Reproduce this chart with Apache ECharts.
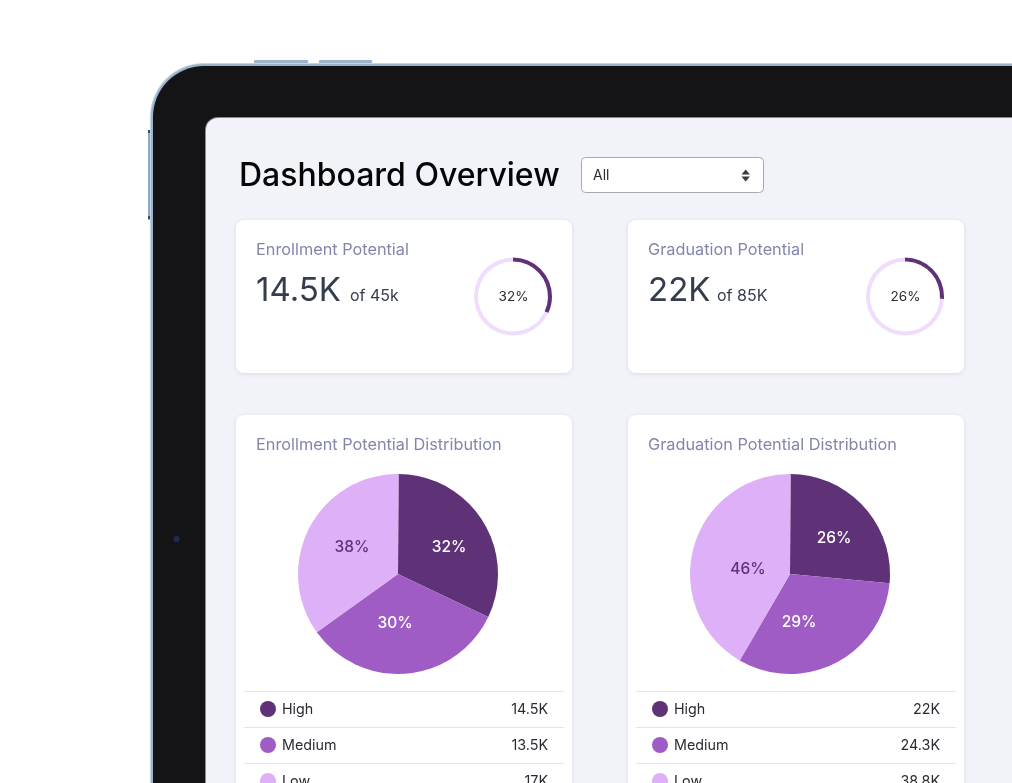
<!DOCTYPE html>
<html>
<head>
<meta charset="utf-8">
<title>Dashboard Overview</title>
<script src="https://cdn.jsdelivr.net/npm/echarts@6/dist/echarts.min.js"></script>
<style>
  html, body { margin: 0; padding: 0; background: #fff; }
  #chart { width: 1012px; height: 783px; }
</style>
</head>
<body>
<div id="chart"></div>
<script>
var levels = ['High', 'Medium', 'Low'];
var levelColors = ['#5f3277', '#9f5cc4', '#deb0f7'];

var cardTitles = ['Enrollment Potential', 'Graduation Potential'];
var cardValues = ['14.5K', '22K'];
var cardTotals = ['of 45k', 'of 85K'];
var ringPercents = [32, 26];

var pieTitles = ['Enrollment Potential Distribution', 'Graduation Potential Distribution'];
// slice sizes as drawn in the picture, they differ a bit from the printed labels
var enrollmentShares = [32, 33, 35];
var graduationShares = [26.4, 31.9, 41.7];
var enrollmentLabels = ['32%', '30%', '38%'];
var graduationLabels = ['26%', '29%', '46%'];
var enrollmentRows = ['14.5K', '13.5K', '17K'];
var graduationRows = ['22K', '24.3K', '38.8K'];

var pieShares = [enrollmentShares, graduationShares];
var pieLabels = [enrollmentLabels, graduationLabels];
var rowValues = [enrollmentRows, graduationRows];

var FONT = 'Inter, "Noto Sans", sans-serif';
var cardX = [236, 628];
var cardWidth = 336;
var totalOffset = [114, 89];

// pie labels in the original do not sit on the slice bisector
var labelSpots = [
  [[449, 547], [395, 623], [352, 547]],
  [[834, 538], [799, 622], [748, 569]]
];

var chart = echarts.init(document.getElementById('chart'));

function rect(x, y, w, h, r, fill, extra) {
  var style = { fill: fill };
  if (extra) {
    for (var k in extra) style[k] = extra[k];
  }
  return { type: 'rect', shape: { x: x, y: y, width: w, height: h, r: r }, style: style, silent: true };
}

function text(x, y, str, size, color, weight, align) {
  return {
    type: 'text', x: x, y: y, silent: true,
    style: {
      text: str, fontSize: size, fill: color, fontFamily: FONT,
      fontWeight: weight || 400, align: align || 'left', verticalAlign: 'middle'
    }
  };
}

var shadow = { shadowColor: 'rgba(60,60,90,0.14)', shadowBlur: 4, shadowOffsetY: 1 };
var elements = [
  // device frame
  rect(254, 60, 54, 6, 1, '#9db4ca'),
  rect(319, 60, 53, 6, 1, '#9db4ca'),
  rect(148, 130, 4, 90, 0, '#8fa9c2'),
  rect(148, 130, 3, 3, 0, '#3c4a58'),
  rect(148, 216, 3, 3, 0, '#3c4a58'),
  rect(150, 63, 1000, 1000, 54, '#c3d5e5'),
  rect(151, 64, 1000, 1000, 53, '#9ab3c9'),
  rect(153, 66, 1000, 1000, 51, '#141316'),
  rect(205, 117, 900, 900, 13, '#8a8a90'),
  rect(206, 118, 900, 900, 12, '#f2f3f9'),
  { type: 'circle', shape: { cx: 176.5, cy: 539, r: 3 }, style: { fill: '#1c2c52' }, silent: true },
  // header
  text(239, 176, 'Dashboard Overview', 32, '#050505', 500),
  rect(581.5, 157.5, 182, 35, 4, '#ffffff', { stroke: '#a8a8b4', lineWidth: 1 }),
  text(593, 175.5, 'All', 14, '#2b2b33', 400),
  { type: 'polygon', shape: { points: [[745.7, 169.5], [741.5, 174.5], [749.9, 174.5]] }, style: { fill: '#3a3a44' }, silent: true },
  { type: 'polygon', shape: { points: [[745.7, 181.5], [741.5, 176.5], [749.9, 176.5]] }, style: { fill: '#3a3a44' }, silent: true }
];

cardX.forEach(function (x, i) {
  elements.push(rect(x, 220, cardWidth, 153, 8, '#ffffff', shadow));
  elements.push(text(x + 20, 250, cardTitles[i], 16.3, '#8385ab', 400));
  elements.push(text(x + 20, 291.5, cardValues[i], 33, '#333d4d', 400));
  elements.push(text(x + totalOffset[i], 296.5, cardTotals[i], 16, '#333d4d', 400));

  elements.push(rect(x, 415, cardWidth, 500, 8, '#ffffff', shadow));
  elements.push(text(x + 20, 445, pieTitles[i], 16.3, '#8385ab', 400));

  levels.forEach(function (name, j) {
    var lineY = 691.5 + j * 36;
    elements.push({ type: 'line', shape: { x1: x + 8, y1: lineY, x2: x + 328, y2: lineY }, style: { stroke: '#e4e4ea', lineWidth: 1 }, silent: true });
    elements.push({ type: 'circle', shape: { cx: x + 32, cy: lineY + 17.5, r: 8 }, style: { fill: levelColors[j] }, silent: true });
    elements.push(text(x + 46, lineY + 18.5, name, 14.3, '#2b2b33', 400));
    elements.push(text(x + 312, lineY + 18.5, rowValues[i][j], 14.3, '#2b2b33', 400, 'right'));
  });
});

var series = [];
cardX.forEach(function (x, i) {
  series.push({
    type: 'pie',
    center: [x + 277, 296.5],
    radius: [35, 39],
    startAngle: 90,
    silent: true,
    labelLine: { show: false },
    label: {
      show: true, position: 'center', fontFamily: FONT, fontSize: 13.5, color: '#2b2b33', offset: [0.5, 0.5],
      formatter: function (p) { return p.dataIndex === 0 ? p.value + '%' : ''; }
    },
    data: [
      { value: ringPercents[i], itemStyle: { color: '#5f3277' } },
      { value: 100 - ringPercents[i], itemStyle: { color: '#f0dcfc' } }
    ]
  });

  series.push({
    type: 'pie',
    center: [x + 162, 574],
    radius: [0, 100],
    startAngle: 89.7,
    silent: true,
    labelLine: { show: false },
    label: {
      show: true, position: 'inside', fontFamily: FONT, fontSize: 15.5, fontWeight: 500,
      formatter: function (p) { return pieLabels[i][p.dataIndex]; }
    },
    labelLayout: function (p) {
      var spot = labelSpots[i][p.dataIndex];
      return { x: spot[0], y: spot[1] };
    },
    data: levels.map(function (name, j) {
      return {
        name: name,
        value: pieShares[i][j],
        itemStyle: { color: levelColors[j] },
        label: { color: j === 2 ? '#5f3277' : '#ffffff' }
      };
    })
  });
});

chart.setOption({
  animation: false,
  backgroundColor: '#ffffff',
  graphic: { elements: elements },
  series: series
});
</script>
</body>
</html>
